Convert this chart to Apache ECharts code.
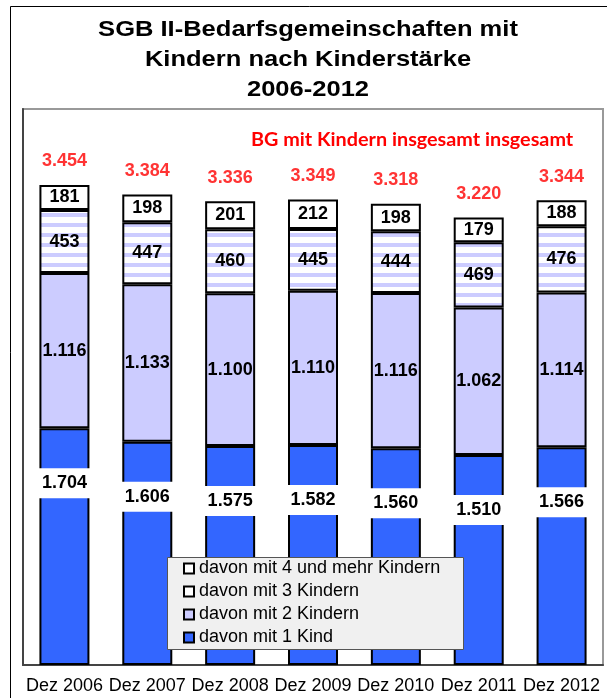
<!DOCTYPE html>
<html lang="de">
<head>
    <meta charset="UTF-8">
    <title>SGB II-Bedarfsgemeinschaften mit Kindern</title>
    <script src="https://cdn.jsdelivr.net/npm/echarts@6.0.0/dist/echarts.min.js"></script>
    <style>
        html, body { margin: 0; padding: 0; background: #fff; }
        #main { width: 607px; height: 698px; }
    </style>
</head>
<body>
    <div id="main"></div>
    <script>
        // Daten (Tausend)
        var jahre = ['Dez 2006', 'Dez 2007', 'Dez 2008', 'Dez 2009', 'Dez 2010', 'Dez 2011', 'Dez 2012'];
        var mit1Kind = [1704, 1606, 1575, 1582, 1560, 1510, 1566];
        var mit2Kindern = [1116, 1133, 1100, 1110, 1116, 1062, 1114];
        var mit3Kindern = [453, 447, 460, 445, 444, 469, 476];
        var mit4Kindern = [181, 198, 201, 212, 198, 179, 188];
        var insgesamt = [3454, 3384, 3336, 3349, 3318, 3220, 3344];

        var namen = ['davon mit 1 Kind', 'davon mit 2 Kindern', 'davon mit 3 Kindern', 'davon mit 4 und mehr Kindern'];

        var font = '"Liberation Sans", Arial, sans-serif';

        // Zahlenformat mit Punkt als Tausendertrenner
        function fmt(v) {
            return String(v).replace(/\B(?=(\d{3})+(?!\d))/g, '.');
        }

        // Streifenmuster fuer "3 Kindern"
        var cv = document.createElement('canvas');
        cv.width = 10; cv.height = 10;
        var ctx = cv.getContext('2d');
        ctx.fillStyle = '#ffffff';
        ctx.fillRect(0, 0, 10, 10);
        ctx.fillStyle = '#ccccff';
        ctx.fillRect(0, 3, 10, 4);

        var chart = echarts.init(document.getElementById('main'));

        var innerLabel = {
            show: true,
            position: 'inside',
            color: '#000',
            fontFamily: font,
            fontWeight: 'bold',
            fontSize: 18,
            formatter: function (p) { return fmt(p.value); }
        };

        var option = {
            animation: false,
            backgroundColor: '#fff',
            graphic: [
                { type: 'rect', z: 0, shape: { x: 10.5, y: 6.5, width: 700, height: 800 },
                  style: { fill: 'none', stroke: '#000', lineWidth: 1 } },
                { type: 'rect', z: 0, shape: { x: 23, y: 109, width: 580, height: 556 },
                  style: { fill: 'none', stroke: '#999', lineWidth: 2 } },
                { type: 'group', x: 308, y: 0, scaleX: 1.16, children: [
                    { type: 'text', x: 0, y: 30, style: { text: 'SGB II-Bedarfsgemeinschaften mit', fill: '#000',
                      font: 'bold 22px ' + font, textAlign: 'center', textVerticalAlign: 'middle' } },
                    { type: 'text', x: 0, y: 60, style: { text: 'Kindern nach Kinderstärke', fill: '#000',
                      font: 'bold 22px ' + font, textAlign: 'center', textVerticalAlign: 'middle' } },
                    { type: 'text', x: 0, y: 90, style: { text: '2006-2012', fill: '#000',
                      font: 'bold 22px ' + font, textAlign: 'center', textVerticalAlign: 'middle' } }
                ] },
                { type: 'text', x: 251, y: 140, scaleX: 1.1, style: { text: 'BG mit Kindern insgesamt insgesamt', fill: '#ff0000',
                  font: 'bold 18px Lato, sans-serif', textAlign: 'left', textVerticalAlign: 'middle' } },
                { type: 'rect', z: 5, shape: { x: 167.5, y: 557.5, width: 296, height: 92 },
                  style: { fill: '#f0f0f0', stroke: '#555', lineWidth: 1 } }
            ],
            legend: {
                z: 6,
                orient: 'vertical',
                left: 183,
                top: 557,
                padding: 0,
                itemGap: 0,
                itemWidth: 10,
                itemHeight: 10,
                itemTextGap: 2,
                icon: 'rect',
                textStyle: { fontFamily: font, fontSize: 18, color: '#000', lineHeight: 23 },
                data: [
                    { name: namen[3], itemStyle: { color: '#fff', borderColor: '#000', borderWidth: 2 } },
                    { name: namen[2], itemStyle: { color: '#fff', borderColor: '#000', borderWidth: 2 } },
                    { name: namen[1], itemStyle: { color: '#ccccff', borderColor: '#000', borderWidth: 2 } },
                    { name: namen[0], itemStyle: { color: '#3366ff', borderColor: '#000', borderWidth: 2 } }
                ]
            },
            grid: { left: 23, right: 4, top: 109, bottom: 33 },
            xAxis: {
                type: 'category',
                data: jahre,
                axisTick: { show: false },
                axisLine: { show: true, lineStyle: { color: '#444', width: 2 } },
                axisLabel: { interval: 0, color: '#000', fontFamily: font, fontSize: 18, margin: 12 }
            },
            yAxis: {
                type: 'value',
                min: 0,
                max: 4000,
                axisLine: { show: true, lineStyle: { color: '#444', width: 2 } },
                axisLabel: { show: false },
                axisTick: { show: false },
                splitLine: { show: false }
            },
            series: [
                {
                    name: namen[0], type: 'bar', stack: 'bg', barWidth: 50, data: mit1Kind,
                    itemStyle: { color: '#3366ff', borderColor: '#000', borderWidth: 2 },
                    label: {
                        show: true, position: 'insideTop', distance: 40,
                        color: '#000', fontFamily: font, fontWeight: 'bold', fontSize: 18,
                        backgroundColor: '#fff', width: 44, align: 'center', lineHeight: 18, padding: [6, 4],
                        formatter: function (p) { return fmt(p.value); }
                    }
                },
                {
                    name: namen[1], type: 'bar', stack: 'bg', barWidth: 50, data: mit2Kindern,
                    itemStyle: { color: '#ccccff', borderColor: '#000', borderWidth: 2 },
                    label: innerLabel
                },
                {
                    name: namen[2], type: 'bar', stack: 'bg', barWidth: 50, data: mit3Kindern,
                    itemStyle: { color: { image: cv, repeat: 'repeat' }, borderColor: '#000', borderWidth: 2 },
                    label: innerLabel
                },
                {
                    name: namen[3], type: 'bar', stack: 'bg', barWidth: 50, data: mit4Kindern,
                    itemStyle: { color: '#fff', borderColor: '#000', borderWidth: 2 },
                    label: innerLabel
                },
                {
                    name: 'insgesamt', type: 'scatter', data: insgesamt,
                    symbolSize: 1, itemStyle: { color: 'rgba(0,0,0,0)' },
                    label: {
                        show: true, position: 'top', distance: 14,
                        color: '#ff0000', fontFamily: font, fontWeight: 'bold', fontSize: 18,
                        formatter: function (p) { return fmt(p.value); }
                    }
                }
            ]
        };

        chart.setOption(option);
    </script>
</body>
</html>
